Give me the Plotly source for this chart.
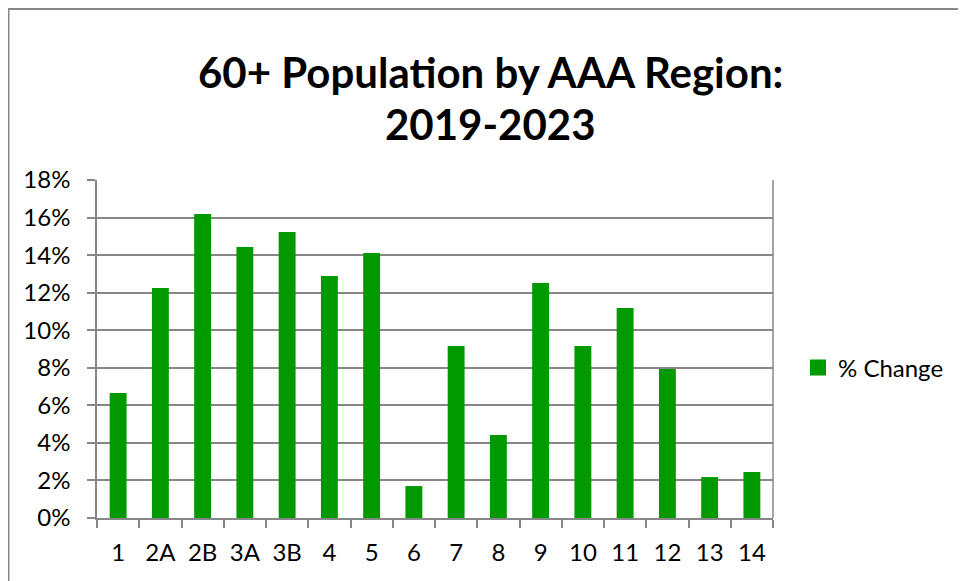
import plotly.graph_objects as go

regions = ["1", "2A", "2B", "3A", "3B", "4", "5", "6", "7", "8", "9", "10", "11", "12", "13", "14"]
pct_change = [0.0666, 0.1225, 0.1619, 0.1443, 0.1523, 0.1289, 0.1411, 0.0170, 0.0916, 0.0442,
              0.1251, 0.0916, 0.1118, 0.0793, 0.0218, 0.0245]
series_name = "% Change"
title_line1 = "60+ Population by AAA Region:"
title_line2 = "2019-2023"

OFF = 8  # page body margin
W, H = 966 - OFF, 581 - OFF
L, R, T, B = 97 - OFF, 773 - OFF, 180 - OFF, 518 - OFF
pw, ph = R - L, B - T


def px_x(p):
    return (p - OFF - L) / pw


def px_y(p):
    return (B - (p - OFF)) / ph


FONT = "Lato"
GRAY = "#878787"
GREEN = "#009900"
TICK_SIZE = 24
TITLE_SIZE = 42

fig = go.Figure()
fig.add_trace(go.Bar(
    x=regions, y=pct_change, name=series_name,
    marker=dict(color=GREEN, line=dict(width=0)),
    showlegend=False, legendgroup="g",
))
# legend entry with a larger square swatch
fig.add_trace(go.Scatter(
    x=[None], y=[None], name=series_name, mode="markers",
    marker=dict(symbol="square", size=16, color=GREEN),
    showlegend=True, legendgroup="g",
))

fig.update_layout(
    width=W, height=H,
    margin=dict(l=L, r=W - R, t=T, b=H - B),
    paper_bgcolor="white", plot_bgcolor="white",
    bargap=0.6,
    font=dict(family=FONT, size=TICK_SIZE, color="black"),
    showlegend=True,
    legend=dict(x=px_x(798), y=px_y(368), xanchor="left", yanchor="middle",
                font=dict(family=FONT, size=TICK_SIZE), bgcolor="rgba(0,0,0,0)",
                itemwidth=30),
    annotations=[
        dict(text="<b>" + title_line1 + "</b>", xref="paper", yref="paper",
             x=px_x(490), y=px_y(72), xanchor="center", yanchor="middle",
             showarrow=False, font=dict(family=FONT, size=TITLE_SIZE, color="black")),
        dict(text="<b>" + title_line2 + "</b>", xref="paper", yref="paper",
             x=px_x(490), y=px_y(124), xanchor="center", yanchor="middle",
             showarrow=False, font=dict(family=FONT, size=TITLE_SIZE, color="black")),
    ],
    xaxis=dict(
        type="category", showline=True, linecolor=GRAY, linewidth=1.5,
        ticks="outside", tickson="boundaries", ticklen=8, tickcolor=GRAY, tickwidth=1.5,
        showgrid=False, ticklabelstandoff=12,
        tickfont=dict(family=FONT, size=TICK_SIZE),
    ),
    yaxis=dict(
        range=[0, 0.18], dtick=0.02, tickformat=".0%",
        showline=True, linecolor=GRAY, linewidth=1.5,
        ticks="outside", ticklen=8, tickcolor=GRAY, tickwidth=1.5,
        showgrid=True, gridcolor=GRAY, gridwidth=1.5,
        ticklabelstandoff=12,
        tickfont=dict(family=FONT, size=TICK_SIZE),
        zeroline=False,
    ),
    shapes=[
        dict(type="line", xref="paper", yref="paper",
             x0=px_x(8.5), x1=px_x(8.5), y0=px_y(600), y1=px_y(9),
             line=dict(color=GRAY, width=2)),
        dict(type="line", xref="paper", yref="paper",
             x0=px_x(8), x1=px_x(1000), y0=px_y(9), y1=px_y(9),
             line=dict(color=GRAY, width=2)),
        dict(type="line", xref="paper", yref="paper",
             x0=1, x1=1, y0=0, y1=1,
             line=dict(color=GRAY, width=1.5)),
    ],
)

fig.write_html("out.html")
